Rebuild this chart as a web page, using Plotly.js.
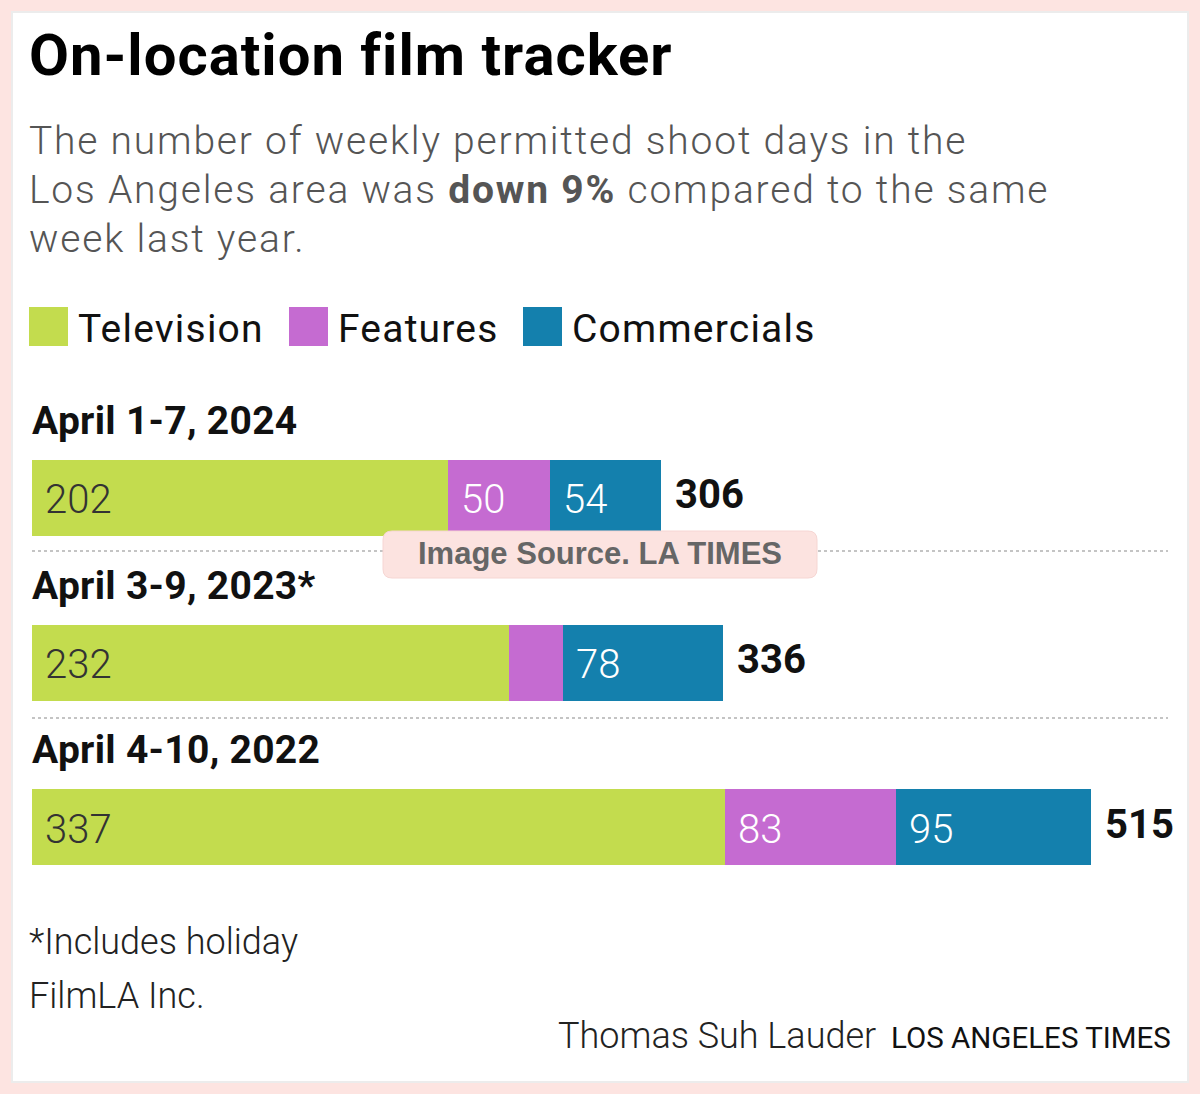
<!DOCTYPE html>
<html>
<head>
<meta charset="utf-8">
<script src="https://cdn.plot.ly/plotly-3.0.1.min.js"></script>
<style>
html,body{margin:0;padding:0;background:#fde4e1;}
#chart{width:1200px;height:1094px;}
</style>
</head>
<body>
<div id="chart"></div>
<script>
// ---- data ----
const weeks = ["April 1-7, 2024", "April 3-9, 2023*", "April 4-10, 2022"];
const seriesNames = ["Television", "Features", "Commercials"];
const television = [202, 232, 337];
const features = [50, 26, 83];
const commercials = [54, 78, 95];
const totals = [306, 336, 515];
const featureLabels = ["50", "", "83"];
const colors = ["#c3dc4e", "#c56bd1", "#1480ad"];

const W = 1200, H = 1094;
const px = x => x / W;
const py = y => 1 - y / H;

const valueFont = {family: "Roboto", size: 40, weight: 300};

const traces = [
  {name: seriesNames[0], x: television, y: weeks, marker: {color: colors[0]}},
  {name: seriesNames[1], x: features, y: weeks, marker: {color: colors[1]}},
  {name: seriesNames[2], x: commercials, y: weeks, marker: {color: colors[2]}}
].map(t => Object.assign(t, {
  type: "bar", orientation: "h", textposition: "none", hoverinfo: "skip",
  width: 0.462
}));

const annotations = [];
const spacing = []; // letter-spacing per annotation (px)
function addAnn(a, ls) { annotations.push(a); spacing.push(ls || 0); }

// in-bar labels (left aligned with padding)
const stacks = [television, features, commercials];
const labelSets = [television.map(String), featureLabels, commercials.map(String)];
const labelColors = ["#333333", "#ffffff", "#ffffff"];
weeks.forEach((w, i) => {
  let start = 0;
  stacks.forEach((s, k) => {
    if (labelSets[k][i]) {
      addAnn({xref: "x", yref: "y", x: start, y: w, xanchor: "left", yanchor: "middle", align: "left",
        xshift: 11, yshift: -2, text: labelSets[k][i], showarrow: false,
        font: Object.assign({color: labelColors[k]}, valueFont)});
    }
    start += s[i];
  });
  addAnn({xref: "x", yref: "y", x: totals[i], y: w, xanchor: "left", yanchor: "middle", align: "left",
    xshift: 12, yshift: 3, text: String(totals[i]), showarrow: false,
    font: {family: "Roboto", size: 40, weight: 700, color: "#111111"}});
  addAnn({xref: "x", yref: "y", x: 0, y: w, xanchor: "left", yanchor: "middle", align: "left",
    xshift: -2, yshift: 77, text: w, showarrow: false,
    font: {family: "Roboto", size: 39, weight: 700, color: "#111111"}}, 0.3);
});

// title & subtitle
addAnn({xref: "paper", yref: "paper", x: px(27), y: py(55), xanchor: "left", yanchor: "middle", align: "left",
  text: "On-location film tracker", showarrow: false,
  font: {family: "Roboto", size: 58, weight: 700, color: "#000000"}}, 1.0);
const subLines = ["The number of weekly permitted shoot days in the",
  "Los Angeles area was <b>down 9%</b> compared to the same",
  "week last year."];
subLines.forEach((t, i) => {
  addAnn({xref: "paper", yref: "paper", x: px(27), y: py(141 + i * 49), xanchor: "left", yanchor: "middle", align: "left",
    text: t, showarrow: false,
    font: {family: "Roboto", size: 39, weight: 300, color: "#555555"}}, 1.8);
});

// legend
const legendX = [29, 289, 523];
const shapes = [];
// white panel
shapes.push({type: "rect", xref: "paper", yref: "paper", x0: px(12), x1: px(1188), y0: py(1082), y1: py(12),
  fillcolor: "#ffffff", line: {color: "#ececec", width: 2}, layer: "below"});
seriesNames.forEach((n, i) => {
  shapes.push({type: "rect", xref: "paper", yref: "paper", x0: px(legendX[i]), x1: px(legendX[i] + 39),
    y0: py(346), y1: py(307), fillcolor: colors[i], line: {width: 0}});
  addAnn({xref: "paper", yref: "paper", x: px(legendX[i] + 47), y: py(329), xanchor: "left", yanchor: "middle", align: "left",
    text: n, showarrow: false, font: {family: "Roboto", size: 39, weight: 400, color: "#111111"}}, 1.2);
});

// separators
[551, 718].forEach(y => shapes.push({type: "line", xref: "paper", yref: "paper",
  x0: px(32), x1: px(1168), y0: py(y), y1: py(y), line: {color: "#c4c4c4", width: 2, dash: "dot"}}));

// footer
addAnn({xref: "paper", yref: "paper", x: px(27), y: py(942), xanchor: "left", yanchor: "middle", align: "left",
  text: "*Includes holiday", showarrow: false, font: {family: "Roboto", size: 36, weight: 300, color: "#222222"}});
addAnn({xref: "paper", yref: "paper", x: px(27), y: py(996), xanchor: "left", yanchor: "middle", align: "left",
  text: "FilmLA Inc.", showarrow: false, font: {family: "Roboto", size: 36, weight: 300, color: "#222222"}});
addAnn({xref: "paper", yref: "paper", x: px(878), y: py(1036), xanchor: "right", yanchor: "middle",
  text: "Thomas Suh Lauder", showarrow: false, font: {family: "Roboto", size: 36, weight: 300, color: "#222222"}});
addAnn({xref: "paper", yref: "paper", x: px(1173), y: py(1038), xanchor: "right", yanchor: "middle",
  text: "LOS ANGELES TIMES", showarrow: false, font: {family: "Roboto", size: 29.5, weight: 400, color: "#111111"}});

// watermark box (rounded) and text
(function () {
  const x0 = 383, x1 = 817, y0 = 531, y1 = 578, r = 9;
  const P = (x, y) => px(x) + "," + py(y);
  const path = "M" + P(x0 + r, y0) + " L" + P(x1 - r, y0) + " Q" + P(x1, y0) + " " + P(x1, y0 + r) +
    " L" + P(x1, y1 - r) + " Q" + P(x1, y1) + " " + P(x1 - r, y1) +
    " L" + P(x0 + r, y1) + " Q" + P(x0, y1) + " " + P(x0, y1 - r) +
    " L" + P(x0, y0 + r) + " Q" + P(x0, y0) + " " + P(x0 + r, y0) + " Z";
  shapes.push({type: "path", xref: "paper", yref: "paper", path: path,
    fillcolor: "#fce3e0", line: {color: "#f6d6d3", width: 1}, layer: "above"});
})();
addAnn({xref: "paper", yref: "paper", x: px(600), y: py(553), xanchor: "center", yanchor: "middle",
  text: "<b>Image Source. LA TIMES</b>", showarrow: false,
  font: {family: "Liberation Sans", size: 31, color: "#666666"}});

// per-annotation letter spacing, applied via stylesheet before Plotly measures text
const css = spacing.map((v, i) => v ? '.annotation[data-index="' + i + '"] text{letter-spacing:' + v + 'px;}' : '').join('');
const st = document.createElement('style');
st.textContent = css;
document.head.appendChild(st);

const layout = {
  width: W, height: H,
  margin: {l: 0, r: 0, t: 0, b: 0, pad: 0},
  paper_bgcolor: "#fde4e1",
  plot_bgcolor: "rgba(0,0,0,0)",
  barmode: "stack",
  showlegend: false,
  xaxis: {domain: [px(32), 1], range: [0, 567.8], visible: false, fixedrange: true},
  yaxis: {domain: [py(909.25), py(415.75)], type: "category", categoryarray: weeks,
    range: [2.5, -0.5], visible: false, fixedrange: true},
  shapes: shapes,
  annotations: annotations
};

Plotly.newPlot("chart", traces, layout, {displayModeBar: false, staticPlot: true});
</script>
</body>
</html>
